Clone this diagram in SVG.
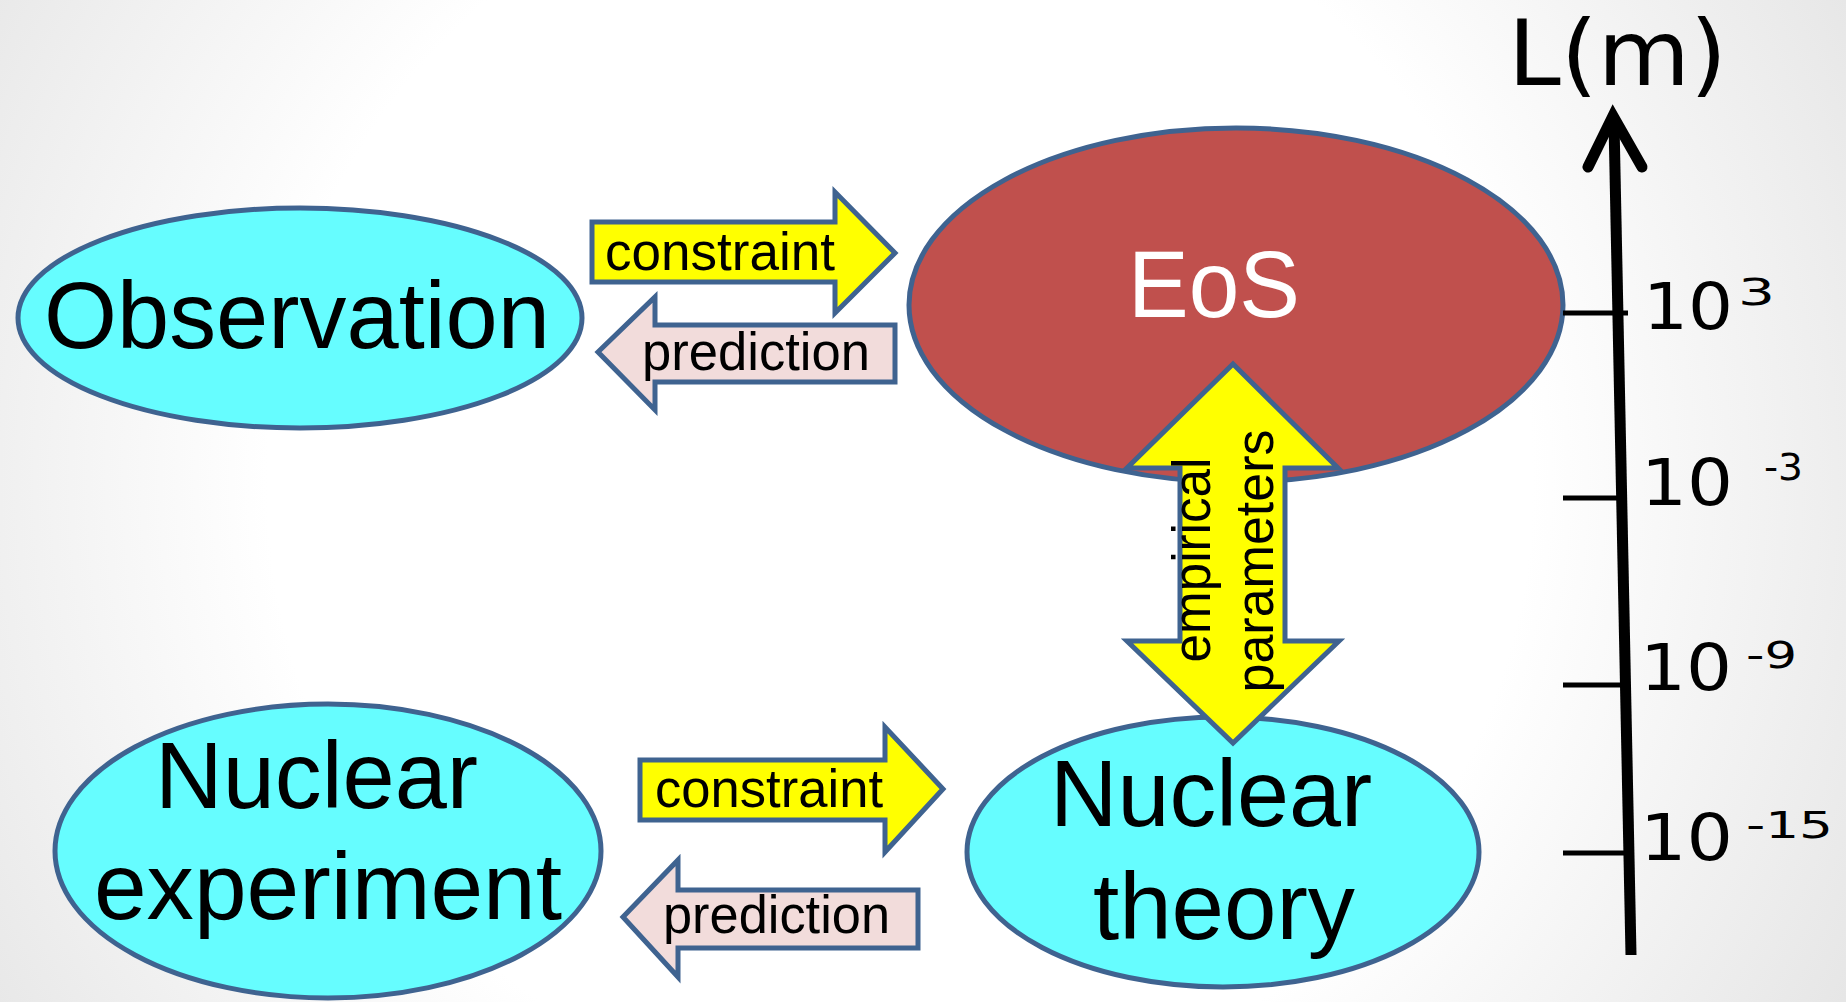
<svg xmlns="http://www.w3.org/2000/svg" width="1846" height="1002" viewBox="0 0 1846 1002">
  <defs>
    <radialGradient id="bg" gradientUnits="userSpaceOnUse" cx="900" cy="480" r="1150">
      <stop offset="0" stop-color="#ffffff"/>
      <stop offset="0.55" stop-color="#ffffff"/>
      <stop offset="1" stop-color="#e2e2e2"/>
    </radialGradient>
  </defs>
  <style>
    .node { stroke: #3f6390; stroke-width: 5; }
    .cyan { fill: #66fdff; }
    .red { fill: #c0504d; }
    .arrow { stroke: #3f6390; stroke-width: 5; stroke-linejoin: miter; }
    .yellow { fill: #ffff00; }
    .pink { fill: #f2dcdb; }
    .big { font-family: "Liberation Sans", Arial, sans-serif; font-size: 94px; fill: #000; }
    .lbl { font-family: "Liberation Sans", Arial, sans-serif; font-size: 53px; fill: #000; }
    .hand { font-family: "DejaVu Sans", "Liberation Sans", sans-serif; fill: #000; }
    .tick { stroke: #000; stroke-width: 5; }
  </style>
  <rect x="0" y="0" width="1846" height="1002" fill="url(#bg)"/>

  <g id="observation">
    <ellipse class="node cyan" cx="300" cy="318" rx="282" ry="110"/>
    <text class="big" x="44" y="348" font-size="95" textLength="506" lengthAdjust="spacingAndGlyphs">Observation</text>
  </g>

  <g id="eos">
    <ellipse class="node red" cx="1236" cy="305" rx="327" ry="177"/>
    <text class="big" x="1128" y="317" font-size="90" fill="#ffffff" style="fill:#ffffff" textLength="172" lengthAdjust="spacingAndGlyphs">EoS</text>
  </g>

  <g id="nuclear-experiment">
    <ellipse class="node cyan" cx="328" cy="851" rx="273" ry="147"/>
    <text class="big" x="155" y="808" textLength="323" lengthAdjust="spacingAndGlyphs">Nuclear</text>
    <text class="big" x="94" y="919" textLength="468" lengthAdjust="spacingAndGlyphs">experiment</text>
  </g>

  <g id="nuclear-theory">
    <ellipse class="node cyan" cx="1223" cy="852" rx="256" ry="135"/>
    <text class="big" x="1050" y="826" textLength="322" lengthAdjust="spacingAndGlyphs">Nuclear</text>
    <text class="big" x="1093" y="939" textLength="262" lengthAdjust="spacingAndGlyphs">theory</text>
  </g>

  <g id="connectors">
    <g id="constraint-top">
      <polygon class="arrow yellow" points="592,222 835,222 835,192 895,253 835,313 835,282 592,282"/>
      <text class="lbl" x="605" y="270" textLength="230" lengthAdjust="spacingAndGlyphs">constraint</text>
    </g>
    <g id="prediction-top">
      <polygon class="arrow pink" points="598,352 655,297 655,325 895,325 895,382 655,382 655,410"/>
      <text class="lbl" x="642" y="370" textLength="228" lengthAdjust="spacingAndGlyphs">prediction</text>
    </g>
    <g id="constraint-bottom">
      <polygon class="arrow yellow" points="640,760 885,760 885,727 943,789 885,852 885,820 640,820"/>
      <text class="lbl" x="655" y="807" textLength="228" lengthAdjust="spacingAndGlyphs">constraint</text>
    </g>
    <g id="prediction-bottom">
      <polygon class="arrow pink" points="623,917 678,860 678,890 918,890 918,948 678,948 678,977"/>
      <text class="lbl" x="663" y="933" textLength="227" lengthAdjust="spacingAndGlyphs">prediction</text>
    </g>
    <g id="empirical-parameters">
      <polygon class="arrow yellow" points="1233,364 1338,468 1285,468 1285,641 1339,641 1233,743 1127,641 1180,641 1180,468 1127,468"/>
      <text class="lbl" transform="translate(1210,560) rotate(-90)" text-anchor="middle" textLength="205" lengthAdjust="spacingAndGlyphs">empirical</text>
      <text class="lbl" transform="translate(1273,561) rotate(-90)" text-anchor="middle" textLength="263" lengthAdjust="spacingAndGlyphs">parameters</text>
    </g>
  </g>

  <g id="scale">
    <text class="hand" x="1508" y="85" font-size="91" textLength="219" lengthAdjust="spacingAndGlyphs">L(m)</text>
    <line x1="1614" y1="122" x2="1631" y2="955" stroke="#000" stroke-width="11"/>
    <polyline points="1588,167 1613,116 1642,167" fill="none" stroke="#000" stroke-width="11" stroke-linecap="round" stroke-linejoin="miter"/>
    <line class="tick" x1="1563" y1="313" x2="1628" y2="313"/>
    <line class="tick" x1="1563" y1="498" x2="1626" y2="498"/>
    <line class="tick" x1="1563" y1="685" x2="1628" y2="685"/>
    <line class="tick" x1="1563" y1="853" x2="1630" y2="853"/>
    <text class="hand" x="1643" y="329" font-size="64" textLength="90" lengthAdjust="spacingAndGlyphs">10</text>
    <text class="hand" x="1738" y="305" font-size="38" textLength="37" lengthAdjust="spacingAndGlyphs">3</text>
    <text class="hand" x="1641" y="505" font-size="64" textLength="92" lengthAdjust="spacingAndGlyphs">10</text>
    <text class="hand" x="1764" y="480" font-size="38" textLength="39" lengthAdjust="spacingAndGlyphs">-3</text>
    <text class="hand" x="1640" y="690" font-size="64" textLength="92" lengthAdjust="spacingAndGlyphs">10</text>
    <text class="hand" x="1746" y="668" font-size="38" textLength="51" lengthAdjust="spacingAndGlyphs">-9</text>
    <text class="hand" x="1640" y="860" font-size="64" textLength="93" lengthAdjust="spacingAndGlyphs">10</text>
    <text class="hand" x="1746" y="838" font-size="38" textLength="87" lengthAdjust="spacingAndGlyphs">-15</text>
  </g>
</svg>
